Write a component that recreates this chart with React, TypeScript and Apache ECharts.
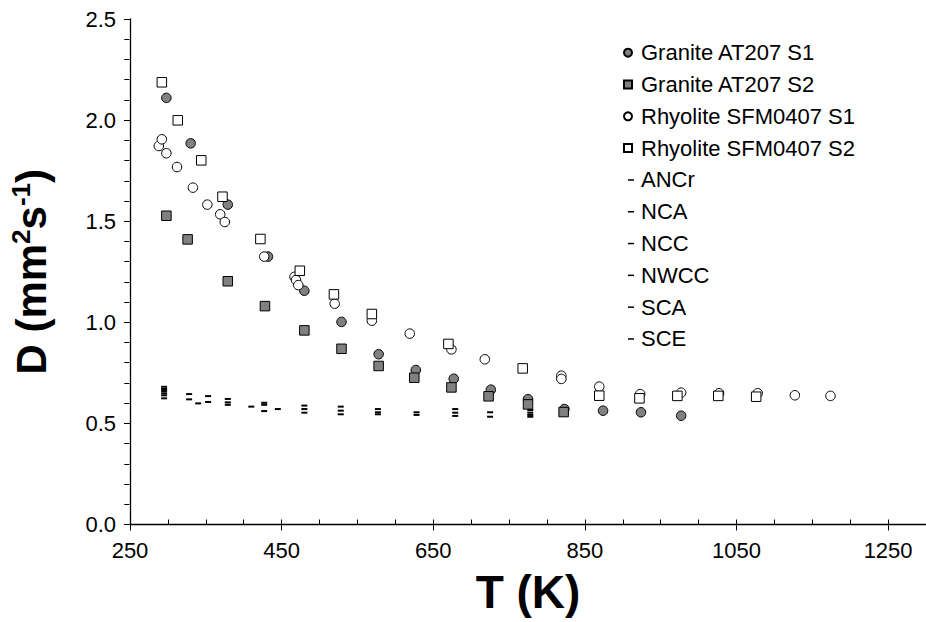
import React, { useEffect, useRef } from "react";
import * as echarts from "echarts";

const FONT = "'Liberation Sans', Arial, sans-serif";

// Granite AT207 S1 (gray circles)
const graniteS1T = [298, 330, 379, 432, 480, 529, 578, 627, 677, 726, 775, 823, 874, 924, 977];
const graniteS1D = [2.11, 1.885, 1.582, 1.325, 1.156, 1.002, 0.842, 0.764, 0.721, 0.667, 0.62, 0.571, 0.563, 0.555, 0.538];

// Granite AT207 S2 (gray squares)
const graniteS2T = [298, 326, 379, 428, 480, 529, 578, 625, 674, 723, 775, 822];
const graniteS2D = [1.527, 1.41, 1.203, 1.08, 0.96, 0.869, 0.784, 0.726, 0.678, 0.634, 0.594, 0.556];

// Rhyolite SFM0407 S1 (open circles)
const rhyS1T = [288, 292, 298, 312, 333, 352, 369, 375, 427, 467, 469, 472, 520, 569, 619, 674, 718, 819, 819, 869, 923, 977, 1027, 1078, 1127, 1174];
const rhyS1D = [1.872, 1.905, 1.836, 1.768, 1.666, 1.582, 1.534, 1.496, 1.325, 1.225, 1.209, 1.184, 1.092, 1.008, 0.944, 0.866, 0.817, 0.736, 0.72, 0.682, 0.645, 0.652, 0.649, 0.649, 0.639, 0.636];

// Rhyolite SFM0407 S2 (open squares)
const rhyS2T = [292, 313, 344, 372, 422, 474, 519, 569, 670, 768, 869, 922, 972, 1026, 1076];
const rhyS2D = [2.187, 1.999, 1.801, 1.621, 1.412, 1.255, 1.138, 1.041, 0.893, 0.772, 0.637, 0.624, 0.636, 0.636, 0.632];

// Dash series
const ancrT = [295, 328, 379, 427, 480, 528, 577, 628, 679, 725, 778];
const ancrD = [0.681, 0.645, 0.621, 0.602, 0.588, 0.583, 0.571, 0.555, 0.571, 0.555, 0.566];
const ncaT = [295, 353, 427, 480, 528, 577, 628, 679, 778];
const ncaD = [0.67, 0.635, 0.592, 0.571, 0.563, 0.555, 0.542, 0.553, 0.553];
const nccT = [295, 340, 379, 445, 480, 528, 577, 679, 725, 778];
const nccD = [0.66, 0.599, 0.604, 0.571, 0.553, 0.545, 0.545, 0.537, 0.533, 0.542];
const nwccT = [295, 353, 410];
const nwccD = [0.649, 0.606, 0.583];
const scaT = [295, 328, 379, 427];
const scaD = [0.639, 0.619, 0.592, 0.561];
const sceT = [295, 778];
const sceD = [0.624, 0.533];

const xTicks = { min: 250, max: 1300, interval: 200, minorInterval: 50 };
const yTicks = { min: 0, max: 2.5, interval: 0.5, minorInterval: 0.1 };

const zip = (t: number[], d: number[]) => t.map((v, i) => [v, d[i]]);

const DASH_ICON = "path://M0,0M16,8M8,3.3H14V4.8H8Z";
const SQUARE_ICON = "path://M0,0M16,8M4,0H12V8H4Z";

export default function App() {
  const ref = useRef<HTMLDivElement>(null);
  useEffect(() => {
    if (!ref.current) return;
    const chart = echarts.init(ref.current, undefined, { renderer: "svg" });
    const grid = { left: 128, top: 19, width: 801.7, height: 505.5 };
    const markerSeries = (
      name: string,
      t: number[],
      d: number[],
      symbol: string,
      fill: string
    ) => ({
      name,
      type: "scatter",
      data: zip(t, d),
      symbol,
      symbolSize: 9.5,
      itemStyle: { color: fill, borderColor: "#000", borderWidth: 1, opacity: 1 },
      emphasis: { disabled: true },
    });
    const dashSeries = (name: string, t: number[], d: number[]) => ({
      name,
      type: "scatter",
      data: zip(t, d),
      symbol: "rect",
      symbolSize: [6, 2],
      itemStyle: { color: "#000", borderWidth: 0, opacity: 1 },
      emphasis: { disabled: true },
    });
    chart.setOption({
      animation: false,
      backgroundColor: "#fff",
      textStyle: { fontFamily: FONT },
      grid,
      legend: {
        orient: "vertical",
        left: 614,
        top: 36.7,
        itemWidth: 16,
        itemHeight: 8,
        itemGap: 9.8,
        symbolKeepAspect: true,
        selectedMode: false,
        textStyle: { fontFamily: FONT, fontSize: 22, color: "#000" },
        data: [
          { name: "Granite AT207 S1", icon: "circle" },
          { name: "Granite AT207 S2", icon: SQUARE_ICON },
          { name: "Rhyolite SFM0407 S1", icon: "circle" },
          { name: "Rhyolite SFM0407 S2", icon: SQUARE_ICON },
          { name: "ANCr", icon: DASH_ICON },
          { name: "NCA", icon: DASH_ICON },
          { name: "NCC", icon: DASH_ICON },
          { name: "NWCC", icon: DASH_ICON },
          { name: "SCA", icon: DASH_ICON },
          { name: "SCE", icon: DASH_ICON },
        ],
      },
      xAxis: [
        {
          type: "value",
          min: xTicks.min,
          max: xTicks.max,
          interval: xTicks.interval,
          position: "bottom",
          name: "T (K)",
          nameLocation: "middle",
          nameGap: 44,
          nameTextStyle: { fontFamily: FONT, fontSize: 46, fontWeight: "bold", color: "#000" },
          axisLine: { show: true, onZero: false, lineStyle: { color: "#000", width: 1.3 } },
          axisTick: { show: true, inside: false, length: 6, lineStyle: { color: "#000", width: 1 } },
          axisLabel: {
            fontFamily: FONT,
            fontSize: 22,
            color: "#000",
            margin: 15,
            showMaxLabel: false,
            formatter: (v: number) => String(v),
          },
          splitLine: { show: false },
        },
        {
          type: "value",
          min: xTicks.min,
          max: xTicks.max,
          interval: xTicks.minorInterval,
          position: "top",
          offset: -grid.height,
          axisLine: { show: false },
          axisTick: { show: true, inside: false, length: 5, lineStyle: { color: "#000", width: 1 } },
          axisLabel: { show: false },
          splitLine: { show: false },
        },
      ],
      yAxis: [
        {
          type: "value",
          min: yTicks.min,
          max: yTicks.max,
          interval: yTicks.interval,
          position: "left",
          name: "{a|D (mm}{s|2}{a|s}{s|-1}{a|)}",
          nameLocation: "middle",
          nameRotate: 90,
          nameGap: 76,
          nameTextStyle: {
            fontFamily: FONT,
            color: "#000",
            rich: {
              a: { fontFamily: FONT, fontSize: 42, fontWeight: "bold", color: "#000", lineHeight: 46 },
              s: { fontFamily: FONT, fontSize: 26, fontWeight: "bold", color: "#000", lineHeight: 28, verticalAlign: "top" },
            },
          },
          axisLine: { show: true, onZero: false, lineStyle: { color: "#000", width: 1.3 } },
          axisTick: { show: true, inside: false, length: 6, lineStyle: { color: "#000", width: 1 } },
          axisLabel: {
            fontFamily: FONT,
            fontSize: 22,
            color: "#000",
            margin: 14,
            formatter: (v: number) => v.toFixed(1),
          },
          splitLine: { show: false },
        },
        {
          type: "value",
          min: yTicks.min,
          max: yTicks.max,
          interval: yTicks.minorInterval,
          position: "right",
          offset: -grid.width,
          axisLine: { show: false },
          axisTick: { show: true, inside: false, length: 5, lineStyle: { color: "#000", width: 1 } },
          axisLabel: { show: false },
          splitLine: { show: false },
        },
      ],
      series: [
        markerSeries("Granite AT207 S1", graniteS1T, graniteS1D, "circle", "#808080"),
        markerSeries("Granite AT207 S2", graniteS2T, graniteS2D, "rect", "#808080"),
        markerSeries("Rhyolite SFM0407 S1", rhyS1T, rhyS1D, "circle", "#ffffff"),
        markerSeries("Rhyolite SFM0407 S2", rhyS2T, rhyS2D, "rect", "#ffffff"),
        dashSeries("ANCr", ancrT, ancrD),
        dashSeries("NCA", ncaT, ncaD),
        dashSeries("NCC", nccT, nccD),
        dashSeries("NWCC", nwccT, nwccD),
        dashSeries("SCA", scaT, scaD),
        dashSeries("SCE", sceT, sceD),
      ],
    });
    return () => chart.dispose();
  }, []);
  return (
    <div
      ref={ref}
      style={{ position: "fixed", left: 0, top: 0, width: 926, height: 622, background: "#fff" }}
    />
  );
}
